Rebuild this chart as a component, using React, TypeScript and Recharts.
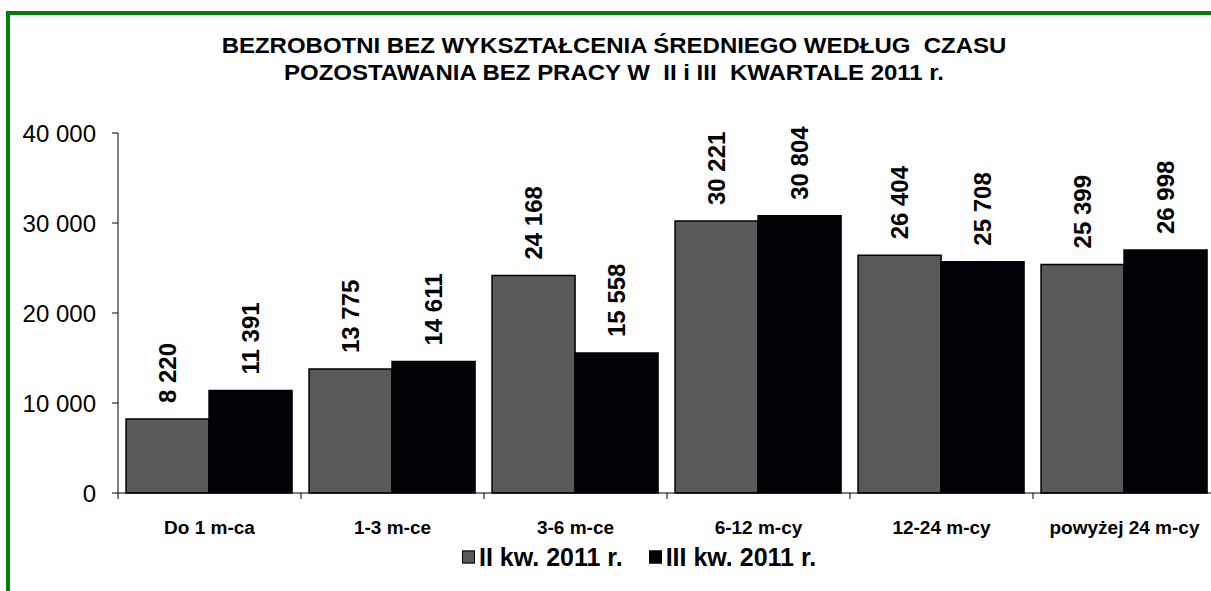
import { BarChart, Bar, XAxis, YAxis, LabelList } from 'recharts';

const categories = ['Do 1 m-ca', '1-3 m-ce', '3-6 m-ce', '6-12 m-cy', '12-24 m-cy', 'powyżej 24 m-cy'];
const q2 = [8220, 13775, 24168, 30221, 26404, 25399];
const q3 = [11391, 14611, 15558, 30804, 25708, 26998];
const yTicks = [0, 10000, 20000, 30000, 40000];

const data = categories.map((name, i) => ({ name, q2: q2[i], q3: q3[i] }));

const font = '"Liberation Sans", Arial, sans-serif';
const fmt = (v: number) => String(v).replace(/\B(?=(\d{3})+(?!\d))/g, ' ');

function CatTick(props: any) {
  const { x, y, payload } = props;
  const off = payload.offset || 0;
  return (
    <g>
      <line x1={x - off} y1={y} x2={x - off} y2={y + 6} stroke="#000" />
      <text x={x} y={y + 34} textAnchor="middle" dominantBaseline="central" fontFamily={font} fontWeight="bold" fontSize={19} fill="#000">
        {payload.value}
      </text>
    </g>
  );
}

function ValueLabel(props: any) {
  const { x, y, width, value } = props;
  const cx = x + width / 2;
  const cy = y - 16;
  return (
    <text x={cx} y={cy} transform={`rotate(-90 ${cx} ${cy})`} textAnchor="start" dominantBaseline="central" fontFamily={font} fontWeight="bold" fontSize={24} fill="#000">
      {fmt(value)}
    </text>
  );
}

export default function App() {
  return (
    <div style={{ position: 'absolute', left: 0, top: 0, width: 1211, height: 591, overflow: 'hidden', background: '#fff', fontFamily: font }}>
      <div style={{ position: 'absolute', left: 6, top: 11, width: 1300, height: 700, borderTop: '4px solid #008000', borderLeft: '4px solid #008000' }} />
      <div style={{ position: 'absolute', left: 0, top: 32, width: 1228, textAlign: 'center', fontWeight: 'bold', fontSize: 22, lineHeight: '27px', color: '#000', transform: 'scaleX(1.09)', transformOrigin: '614px 0' }}>
        BEZROBOTNI BEZ WYKSZTAŁCENIA ŚREDNIEGO WEDŁUG&nbsp; CZASU
        <br />
        POZOSTAWANIA BEZ PRACY W&nbsp; II i III&nbsp; KWARTALE 2011 r.
      </div>
      <div style={{ position: 'absolute', left: 0, top: 0 }}>
        <BarChart width={1216} height={591} data={data} margin={{ top: 133, right: 0, bottom: 0, left: 0 }} barCategoryGap="4.4%" barGap={0}>
          <XAxis dataKey="name" height={98} tickSize={0} tickMargin={0} tick={<CatTick />} axisLine={{ stroke: '#000' }} interval={0} />
          <YAxis width={118} domain={[0, 40000]} ticks={yTicks} tickFormatter={fmt} tickSize={6} tickMargin={16} axisLine={{ stroke: '#000' }} tickLine={{ stroke: '#000' }} tick={{ fontFamily: font, fontSize: 24, fill: '#000' }} />
          <Bar dataKey="q2" fill="#595959" stroke="#000" strokeWidth={1.5} isAnimationActive={false}>
            <LabelList dataKey="q2" content={<ValueLabel />} />
          </Bar>
          <Bar dataKey="q3" fill="#020208" stroke="#000" strokeWidth={1.5} isAnimationActive={false}>
            <LabelList dataKey="q3" content={<ValueLabel />} />
          </Bar>
        </BarChart>
      </div>
      <div style={{ position: 'absolute', left: 462, top: 557, transform: 'translateY(-50%)', display: 'flex', alignItems: 'center', fontWeight: 'bold', fontSize: 25, color: '#000', whiteSpace: 'nowrap' }}>
        <span style={{ width: 11, height: 11, background: '#595959', border: '1.5px solid #000', marginRight: 4 }} />
        <span>II kw. 2011 r.</span>
        <span style={{ width: 11, height: 11, background: '#020208', border: '1.5px solid #000', marginLeft: 26, marginRight: 4 }} />
        <span>III kw. 2011 r.</span>
      </div>
    </div>
  );
}
